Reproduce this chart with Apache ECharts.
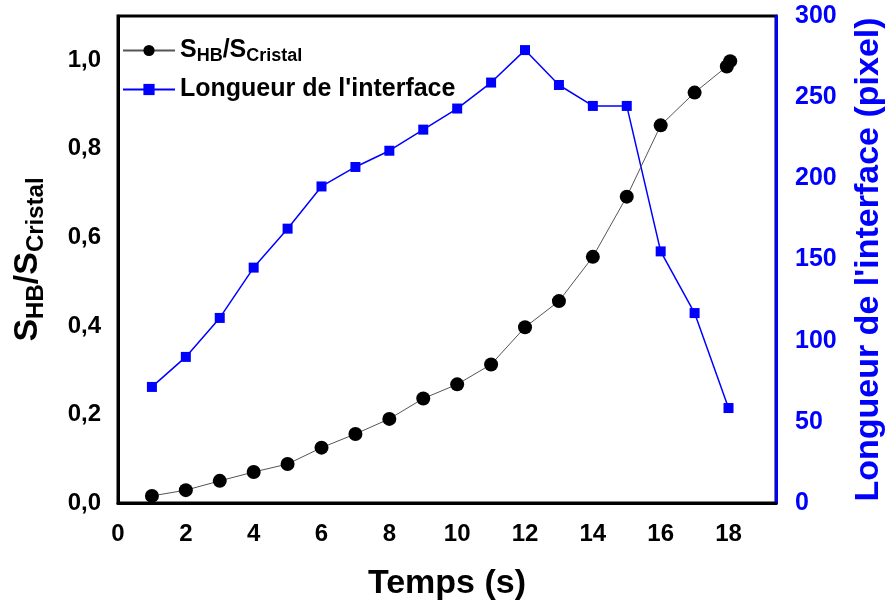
<!DOCTYPE html>
<html>
<head>
<meta charset="utf-8">
<script src="https://cdn.jsdelivr.net/npm/echarts@6/dist/echarts.min.js"></script>
<style>
    * { margin: 0; padding: 0; }
    #main { width: 887px; height: 610px; background: #fff; }
</style>
</head>
<body>
<div id="main"></div>
<script>
    // S_HB / S_Cristal (left axis)
    var tempsRatio = [1, 2, 3, 4, 5, 6, 7, 8, 9, 10, 11, 12, 13, 14, 15, 16, 17, 17.95, 18.05];
    var ratio = [0.016, 0.029, 0.05, 0.07, 0.088, 0.125, 0.156, 0.19, 0.236, 0.268, 0.313, 0.397, 0.456, 0.556, 0.692, 0.853, 0.927, 0.986, 0.998];
    // longueur de l'interface en pixel (right axis)
    var tempsLong = [1, 2, 3, 4, 5, 6, 7, 8, 9, 10, 11, 12, 13, 14, 15, 16, 17, 18];
    var longueur = [71.5, 90, 114, 145, 169, 195, 207, 217, 230, 243, 259, 279, 257.5, 244.6, 244.6, 155, 117, 58.5];
    var xTicks = [0, 2, 4, 6, 8, 10, 12, 14, 16, 18];

    var font = 'Liberation Sans, Arial, sans-serif';
    var myChart = echarts.init(document.getElementById('main'));

    function pairs(xs, ys) {
        return xs.map(function (x, i) { return [x, ys[i]]; });
    }

    var option = {
        animation: false,
        backgroundColor: '#fff',
        grid: {
            left: 118, right: 111, top: 16, bottom: 107,
            outerBoundsMode: 'none',
            containLabel: false,
            show: true, borderColor: '#000', borderWidth: 3
        },
        legend: {
            orient: 'vertical',
            left: 117, top: 33,
            itemGap: 12,
            itemWidth: 52, itemHeight: 14,
            textStyle: {
                fontFamily: font, fontSize: 25, fontWeight: 'bold', color: '#000',
                rich: {
                    b: { fontFamily: font, fontSize: 25, fontWeight: 'bold', color: '#000' },
                    s: { fontFamily: font, fontSize: 18, fontWeight: 'bold', color: '#000', verticalAlign: 'bottom', padding: [11, 0, 0, 0] }
                }
            },
            formatter: function (name) {
                if (name === 'ratio') return '{b|S}{s|HB}{b|/S}{s|Cristal}';
                return "Longueur de l'interface";
            },
            data: ['ratio', 'long']
        },
        xAxis: {
            type: 'value',
            min: 0, max: 19.4, interval: 2,
            name: 'Temps (s)',
            nameLocation: 'middle',
            nameGap: 64,
            nameTextStyle: { fontFamily: font, fontSize: 34, fontWeight: 'bold', color: '#000' },
            axisLine: { lineStyle: { color: '#000', width: 3 } },
            axisTick: { show: false },
            splitLine: { show: false },
            axisLabel: {
                showMaxLabel: false,
                margin: 19,
                fontFamily: font, fontSize: 24, fontWeight: 'bold', color: '#000',
                formatter: function (v) { return xTicks.indexOf(v) >= 0 ? String(v) : ''; }
            }
        },
        yAxis: [{
            type: 'value',
            min: 0, max: 1.1, interval: 0.2,
            name: '{b|S}{s|HB}{b|/S}{s|Cristal}',
            nameLocation: 'middle',
            nameRotate: 90,
            nameGap: 70,
            nameTextStyle: {
                rich: {
                    b: { fontFamily: font, fontSize: 34, fontWeight: 'bold', color: '#000' },
                    s: { fontFamily: font, fontSize: 24, fontWeight: 'bold', color: '#000', padding: [16, 0, 0, 0] }
                }
            },
            axisLine: { show: true, lineStyle: { color: '#000', width: 3 } },
            axisTick: { show: false },
            splitLine: { show: false },
            axisLabel: {
                showMaxLabel: false,
                margin: 17,
                fontFamily: font, fontSize: 24, fontWeight: 'bold', color: '#000',
                formatter: function (v) { return v.toFixed(1).replace('.', ','); }
            }
        }, {
            type: 'value',
            position: 'right',
            min: 0, max: 300, interval: 50,
            name: "Longueur de l'interface (pixel)",
            nameLocation: 'middle',
            nameRotate: 90,
            nameGap: 76,
            nameTextStyle: { fontFamily: font, fontSize: 34, fontWeight: 'bold', color: '#0000ff' },
            axisLine: { show: true, lineStyle: { color: '#0000ff', width: 3 } },
            axisTick: { show: false },
            splitLine: { show: false },
            axisLabel: {
                margin: 19,
                fontFamily: font, fontSize: 25, fontWeight: 'bold', color: '#0000ff'
            }
        }],
        series: [{
            name: 'ratio',
            type: 'line',
            yAxisIndex: 0,
            data: pairs(tempsRatio, ratio),
            symbol: 'circle',
            symbolSize: 14,
            itemStyle: { color: '#000' },
            lineStyle: { color: '#555', width: 1 },
            z: 3
        }, {
            name: 'long',
            type: 'line',
            yAxisIndex: 1,
            data: pairs(tempsLong, longueur),
            symbol: 'rect',
            symbolSize: 10,
            itemStyle: { color: '#0000ff' },
            lineStyle: { color: '#0000ff', width: 1.5 },
            z: 2
        }]
    };

    myChart.setOption(option);
</script>
</body>
</html>
